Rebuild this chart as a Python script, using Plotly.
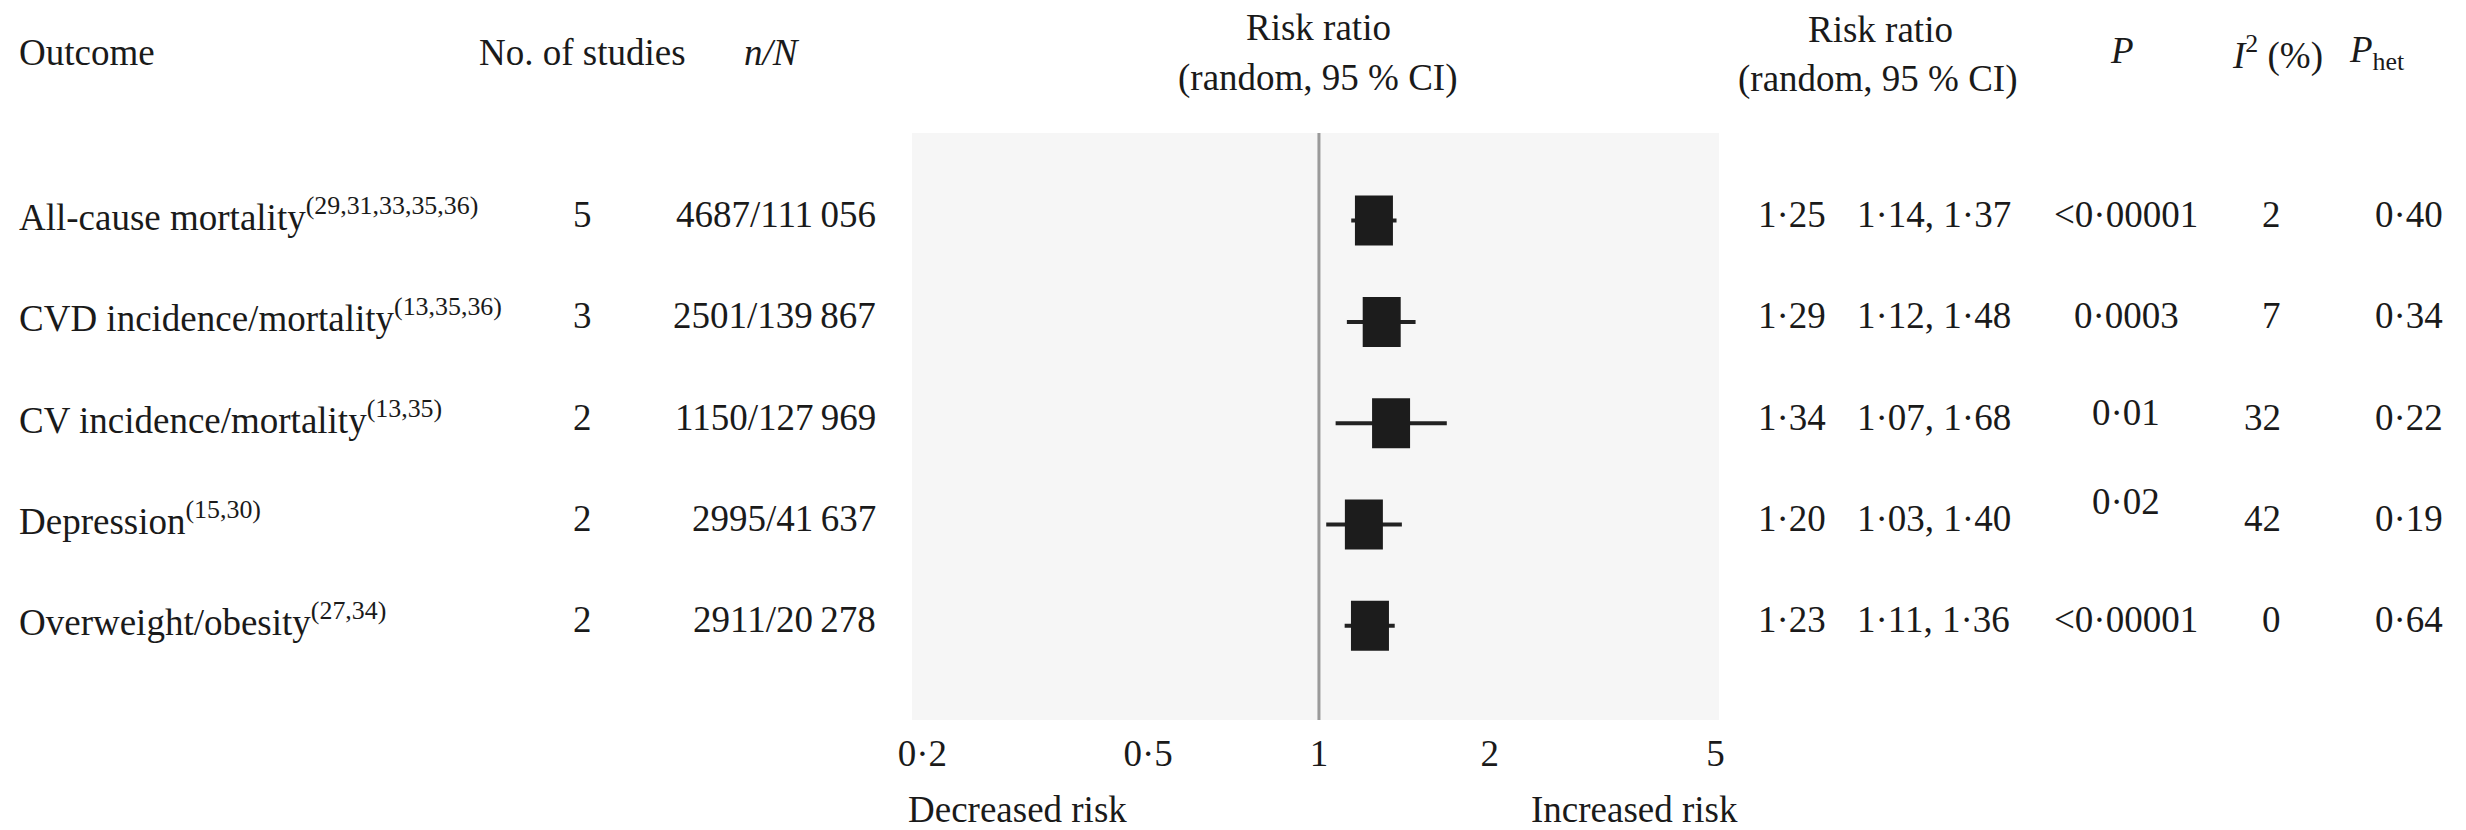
import math
import plotly.graph_objects as go

# ---------------- data ----------------
outcomes = ["All-cause mortality", "CVD incidence/mortality", "CV incidence/mortality",
            "Depression", "Overweight/obesity"]
refs = ["(29,31,33,35,36)", "(13,35,36)", "(13,35)", "(15,30)", "(27,34)"]
n_studies = [5, 3, 2, 2, 2]
events = [4687, 2501, 1150, 2995, 2911]
totals = [111056, 139867, 127969, 41637, 20278]
rr = [1.25, 1.29, 1.34, 1.20, 1.23]
ci_low = [1.14, 1.12, 1.07, 1.03, 1.11]
ci_high = [1.37, 1.48, 1.68, 1.40, 1.36]
p_values = ["<0·00001", "0·0003", "0·01", "0·02", "<0·00001"]
i2 = [2, 7, 32, 42, 0]
p_het = [0.40, 0.34, 0.22, 0.19, 0.64]
tick_vals = [0.2, 0.5, 1, 2, 5]
tick_text = ["0·2", "0·5", "1", "2", "5"]
rows = list(range(1, len(outcomes) + 1))

# ---------------- layout helpers ----------------
W, H = 2466, 830
L, R, T, B = 912, 1719, 133, 720
FONT = "Liberation Serif, Times New Roman, serif"
FS = 37
COL = "#1a1a1a"
X_LO, X_HI = 0.1918, 5.07
# half-width of the estimate box, as a multiplicative factor on the log axis (~19 px)
BOX_F = math.exp(19 * math.log(X_HI / X_LO) / (R - L))


def px(x):
    return (x - L) / (R - L)


def py(y):
    return (B - y) / (B - T)


def dot(v, nd=2):
    return f"{v:.{nd}f}".replace(".", "·")


def esc(s):
    return s.replace("<", "&lt;")


fig = go.Figure()

# CI lines
for r, lo, hi in zip(rows, ci_low, ci_high):
    fig.add_trace(go.Scatter(x=[lo, hi], y=[r, r], mode="lines",
                             line=dict(color="#222222", width=4),
                             showlegend=False, hoverinfo="skip"))

# point estimates (hover trace)
fig.add_trace(go.Scatter(x=rr, y=rows, mode="markers",
                         marker=dict(size=1, color="rgba(0,0,0,0)"),
                         showlegend=False))

shapes = []
# line of no effect
shapes.append(dict(type="line", xref="x", yref="paper", x0=1, x1=1, y0=0, y1=1,
                   line=dict(color="#9a9a9a", width=3), layer="above"))
# boxes for estimates
for r, v in zip(rows, rr):
    shapes.append(dict(type="rect", xref="x", yref="y",
                       x0=v / BOX_F, x1=v * BOX_F,
                       ysizemode="pixel", yanchor=r, y0=-25, y1=25,
                       fillcolor="#1c1c1c", line=dict(width=0), layer="above"))

ann = []


def add(text, x, y, anchor="center", yref="paper", yshift=0, size=FS):
    ann.append(dict(text=text, x=px(x), xref="paper", y=y, yref=yref,
                    xanchor=anchor, yanchor="middle", showarrow=False,
                    yshift=yshift, font=dict(family=FONT, size=size, color=COL)))


# headers
add("Outcome", 17, py(53), "left")
add("No. of studies", 582, py(53))
add("<i>n/N</i>", 772, py(53))
add("Risk ratio", 1318, py(28))
add("(random, 95 % CI)", 1318, py(78))
add("Risk ratio", 1880, py(29))
add("(random, 95 % CI)", 1878, py(79))
add("<i>P</i>", 2122, py(50))
add("<i>I</i><sup>2</sup> (%)", 2277, py(53))
add("<i>P</i><sub>het</sub>", 2347, py(53), "left")

# table rows
p_shift = [0, 0, 5, 17, 0]
for i, r in enumerate(rows):
    ys = 6
    add(f"{outcomes[i]}<sup>{refs[i]}</sup>", 17, r, "left", "y", ys)
    add(str(n_studies[i]), 582, r, "center", "y", ys)
    add(f"{events[i]}/{totals[i]:,}".replace(",", "\u2009"), 878, r, "right", "y", ys)
    add(dot(rr[i]), 1756, r, "left", "y", ys)
    add(f"{dot(ci_low[i])}, {dot(ci_high[i])}", 1855, r, "left", "y", ys)
    add(esc(p_values[i]), 2126, r, "center", "y", ys + p_shift[i])
    add(str(i2[i]), 2283, r, "right", "y", ys)
    add(dot(p_het[i]), 2445, r, "right", "y", ys)

# direction labels
add("Decreased risk", 906, py(810), "left")
add("Increased risk", 1740, py(810), "right")

fig.update_layout(
    width=W, height=H,
    margin=dict(l=L, r=W - R, t=T, b=H - B, pad=0),
    paper_bgcolor="white", plot_bgcolor="#f6f6f6",
    shapes=shapes, annotations=ann, showlegend=False,
    font=dict(family=FONT, size=FS, color=COL),
)
fig.update_xaxes(type="log", range=[math.log10(X_LO), math.log10(X_HI)],
                 tickvals=tick_vals, ticktext=tick_text,
                 showgrid=False, zeroline=False, showline=False, ticks="",
                 ticklabelstandoff=8,
                 tickfont=dict(family=FONT, size=FS, color=COL))
fig.update_yaxes(range=[5.93, 0.135], showgrid=False, zeroline=False,
                 showline=False, showticklabels=False, ticks="")

fig.write_html("out.html", config={"displayModeBar": False},
               post_script="document.body.style.margin='0px';")
